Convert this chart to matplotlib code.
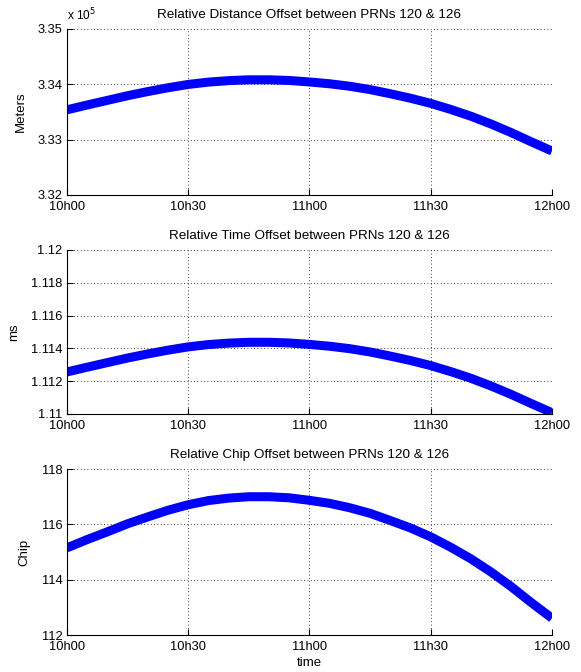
import numpy as np
import matplotlib.pyplot as plt

plt.rcParams['font.family'] = ['Liberation Sans', 'DejaVu Sans']
plt.rcParams['font.size'] = 9

# --- data (every 5 min from 10h00) ---
minutes = [0, 5, 10, 15, 20, 25, 30, 35, 40, 45, 50, 55, 60,
           65, 70, 75, 80, 85, 90, 95, 100, 105, 110, 115, 120]
dist_e5 = [3.33537, 3.33624, 3.33708, 3.33792, 3.33867, 3.33936, 3.33996,
           3.34038, 3.34065, 3.34080, 3.34080, 3.34068, 3.34041, 3.34008,
           3.33963, 3.33903, 3.33828, 3.33747, 3.33654, 3.33543, 3.33420,
           3.33279, 3.33123, 3.32955, 3.32793]   # x 10^5 m
time_ms = [1.11256, 1.11285, 1.11313, 1.11341, 1.11366, 1.11389, 1.11409,
           1.11423, 1.11432, 1.11437, 1.11437, 1.11433, 1.11424, 1.11413,
           1.11398, 1.11378, 1.11353, 1.11326, 1.11295, 1.11258, 1.11217,
           1.11170, 1.11118, 1.11062, 1.11008]
chip = [115.15, 115.45, 115.73, 116.02, 116.27, 116.51, 116.71, 116.86,
        116.95, 117.00, 117.00, 116.96, 116.87, 116.76, 116.60, 116.40,
        116.14, 115.87, 115.55, 115.17, 114.75, 114.27, 113.74, 113.16,
        112.61]

xtick_pos = [0, 30, 60, 90, 120]
xtick_lab = ['10h00', '10h30', '11h00', '11h30', '12h00']

panels = [
    dict(y=dist_e5, title='Relative Distance Offset between PRNs 120 & 126',
         ylabel='Meters', ylim=(3.32, 3.35), yticks=[3.32, 3.33, 3.34, 3.35],
         ylabs=['3.32', '3.33', '3.34', '3.35'], rect=[0.115, 0.710, 0.835, 0.247]),
    dict(y=time_ms, title='Relative Time Offset between PRNs 120 & 126',
         ylabel='ms', ylim=(1.11, 1.12),
         yticks=[1.11, 1.112, 1.114, 1.116, 1.118, 1.12],
         ylabs=['1.11', '1.112', '1.114', '1.116', '1.118', '1.12'],
         rect=[0.115, 0.384, 0.835, 0.244]),
    dict(y=chip, title='Relative Chip Offset between PRNs 120 & 126',
         ylabel='Chip', ylim=(112, 118), yticks=[112, 114, 116, 118],
         ylabs=['112', '114', '116', '118'], rect=[0.115, 0.055, 0.835, 0.247]),
]

fig = plt.figure(figsize=(5.81, 6.72), dpi=100)

for i, p in enumerate(panels):
    ax = fig.add_axes(p['rect'])
    ax.plot(minutes, p['y'], color='#0000ff', lw=6.5, solid_capstyle='butt',
            solid_joinstyle='round')
    ax.set_xlim(0, 120)
    ax.set_ylim(*p['ylim'])
    ax.set_xticks(xtick_pos)
    ax.set_xticklabels(xtick_lab)
    ax.set_yticks(p['yticks'])
    ax.set_yticklabels(p['ylabs'])
    ax.set_title(p['title'], fontsize=9.7, pad=8)
    ax.set_ylabel(p['ylabel'], fontsize=9.5, labelpad=8)
    ax.grid(True, color='black', linestyle=(0, (1, 3)), linewidth=0.6)
    ax.spines['top'].set_visible(False)
    ax.spines['right'].set_visible(False)
    ax.tick_params(direction='in', length=4, width=0.8, labelsize=9.3, top=False,
                   right=False)
    ax.tick_params(axis='x', pad=4.5)
    ax.tick_params(axis='y', pad=3)
    if i == 0:
        ax.text(0.0, 1.035, r'x 10$^5$', transform=ax.transAxes, fontsize=8.5,
                ha='left', va='bottom')
    if i == 2:
        ax.set_xlabel('time', fontsize=9.5, labelpad=3)

fig.savefig('out.png', dpi=100)
